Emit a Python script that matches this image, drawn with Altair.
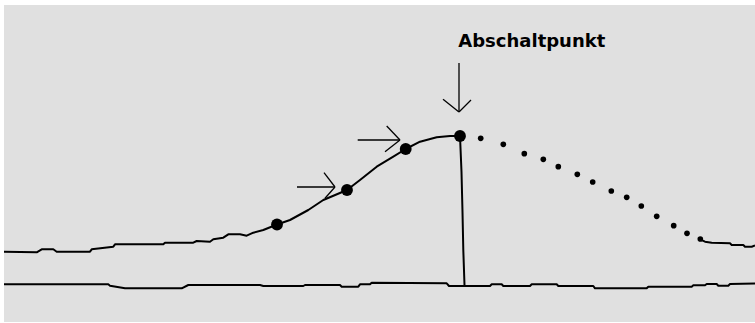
import altair as alt
import pandas as pd

# ---- data (time units, signal units) ----
curve_t = [0, 32.7, 37.7, 49.3, 52.7, 86, 87.7, 109.3, 111, 159.3, 161, 189.3, 192.7, 206, 209.3,
           219.3, 224.3, 236, 242.7, 249.3, 259.3, 273, 286, 304.3, 319.3, 343, 356, 372.7, 389.3,
           401.7, 416, 432.7, 446, 456]
curve_v = [70.3, 69.7, 72.7, 72.7, 70.3, 70.3, 72.7, 75.3, 77.7, 77.7, 79.3, 79.3, 81, 80.3, 82.7,
           84.3, 87.7, 87.7, 86.3, 89.3, 92, 97.5, 102, 112, 122, 132, 142, 155.3, 165.3,
           173, 180.3, 184.7, 186, 186]

tail_t = [696, 701, 707.7, 726, 727.7, 739.3, 741, 747.7, 751]
tail_v = [82.7, 80.3, 79.3, 78.7, 77, 77, 75.3, 75.3, 76.5]

drop_t = [456, 457.5, 458.5, 459.3, 460.5]
drop_v = [186, 150, 110, 72, 37]

base_t = [0, 104.3, 106, 121, 177.7, 184.3, 256, 259.3, 299.3, 301, 336, 337.7, 354.3, 356, 366,
          367.7, 442.7, 445, 486, 487.7, 497.7, 499.3, 526, 527.7, 552.7, 554.3, 589.3, 591, 642.7,
          644.3, 687.7, 689.3, 701, 702.7, 712.7, 714.3, 724.3, 726, 751]
base_v = [37.7, 37.7, 36.3, 33.7, 33.7, 37, 37, 36, 36, 37, 37, 35.3, 35.3, 37.7, 37.7,
          39.3, 38.7, 36, 36, 37.7, 37.7, 36, 36, 37.7, 37.7, 36, 36, 33.7, 33.7,
          35.3, 35.3, 36.7, 36.7, 38, 38, 36.3, 36.3, 38, 38.5]

big_t = [273, 343, 401.7, 456]
big_v = [97.5, 132, 173, 186]

small_t = [476.7, 499.3, 520.3, 539.3, 554.3, 573.3, 588.7, 607.3, 622.7, 637.3, 652.7, 669.7, 683, 696.3]
small_v = [183.7, 177.7, 168.3, 162.7, 155.3, 147.7, 140, 131, 124.7, 116, 105.7, 96.3, 88.7, 83]

# arrow segments: start (t, v) -> end (t2, v2)
arr_t = [455, 439, 467, 293, 320, 321, 353.7, 382.7, 381]
arr_v = [259, 222.7, 222, 135, 149.3, 123.7, 182, 196, 170.3]
arr_t2 = [455, 455, 455, 331, 331, 331, 396, 396, 396]
arr_v2 = [210, 210, 210, 135, 135, 135, 182, 182, 182]

label_text = ["Abschaltpunkt"]
label_t = [454.3]
label_v = [274.7]

# ---- build tables ----
curve = pd.DataFrame({"t": curve_t, "v": curve_v})
tail = pd.DataFrame({"t": tail_t, "v": tail_v})
drop = pd.DataFrame({"t": drop_t, "v": drop_v})
base = pd.DataFrame({"t": base_t, "v": base_v})
big = pd.DataFrame({"t": big_t, "v": big_v})
small = pd.DataFrame({"t": small_t, "v": small_v})
arrows = pd.DataFrame({"t": arr_t, "v": arr_v, "t2": arr_t2, "v2": arr_v2})
labels = pd.DataFrame({"t": label_t, "v": label_v, "text": label_text})

xs = alt.Scale(domain=[0, 751], nice=False, zero=False)
ys = alt.Scale(domain=[0, 317], nice=False, zero=False)
X = alt.X("t:Q", scale=xs, axis=None)
Y = alt.Y("v:Q", scale=ys, axis=None)
INK = "#000000"

def line(df, w=2):
    return alt.Chart(df).mark_line(color=INK, strokeWidth=w, strokeJoin="round").encode(
        x=X, y=Y, order=alt.Order("idx:Q")
    ).transform_window(idx="row_number()")

layers = [
    line(curve),
    line(tail),
    line(drop),
    line(base),
    alt.Chart(arrows).mark_rule(color=INK, strokeWidth=1.3).encode(
        x=X, y=Y, x2="t2:Q", y2="v2:Q"),
    alt.Chart(big).mark_circle(color=INK, opacity=1, size=140).encode(x=X, y=Y),
    alt.Chart(small).mark_circle(color=INK, opacity=1, size=32).encode(x=X, y=Y),
    alt.Chart(labels).mark_text(align="left", baseline="alphabetic", font="DejaVu Sans",
                                fontWeight="bold", fontSize=18, color=INK).encode(
        x=X, y=Y, text="text:N"),
]

chart = alt.layer(*layers).properties(
    width=751, height=317,
    padding={"left": 4, "top": 5, "right": 0, "bottom": 1},
    autosize=alt.AutoSizeParams(type="none"),
    background="white",
).configure_view(fill="#e0e0e0", stroke=None)

chart.save("out.html", embed_options={"renderer": "svg", "actions": False})
